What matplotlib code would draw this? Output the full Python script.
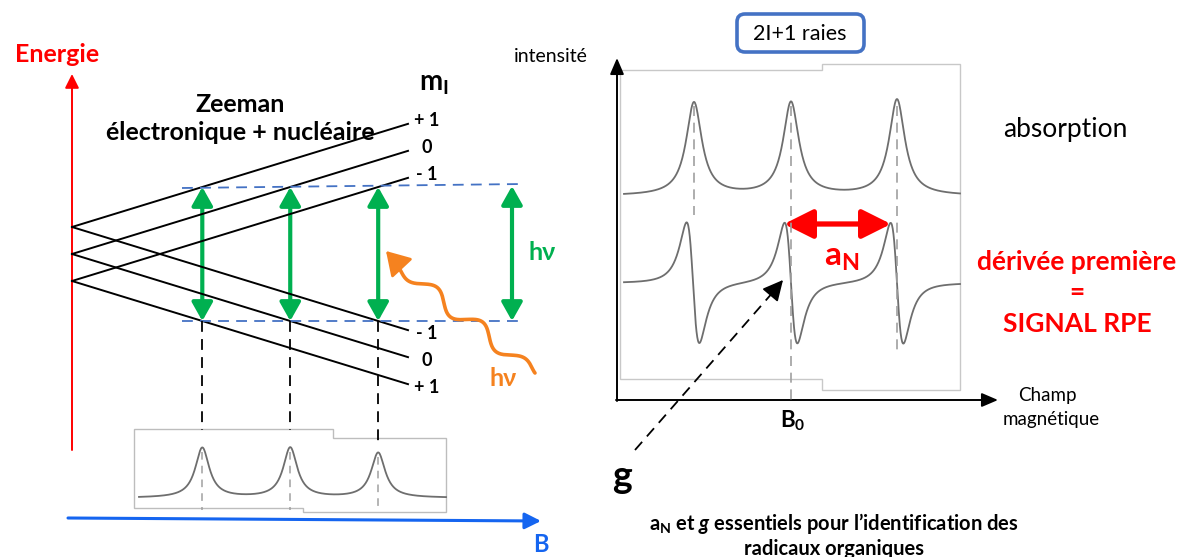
import numpy as np
import matplotlib.pyplot as plt
from matplotlib.patches import FancyArrowPatch, FancyBboxPatch, Polygon

plt.rcParams['font.family'] = ['Lato', 'DejaVu Sans']
plt.rcParams['mathtext.fontset'] = 'custom'
plt.rcParams['mathtext.rm'] = 'Lato'
plt.rcParams['mathtext.it'] = 'Lato:italic'
plt.rcParams['mathtext.bf'] = 'Lato:bold'
plt.rcParams['mathtext.bfit'] = 'Lato:bold:italic'

# --- data ---
ml_values = [1, 0, -1]
ml_labels = ['+ 1', '0', '- 1']
B_start = 72          # field origin of the level diagram
B_stop = 408
E_mid = 254
hyperfine = 27
zeeman_slope = 0.307
h_nu = 134

small_peak_heights = [50, 50, 45]
abs_centers = [694, 791, 897]
abs_heights = [93, 93, 96]
deriv_centers = [693, 791, 897]
deriv_amp = 93

GREEN = '#00B050'
RED = '#FF0000'
ORANGE = '#F5821F'
BLUE = '#1565F0'
GRAY = '#6E6E6E'


def upper(ml, b):
    return E_mid - hyperfine * ml - zeeman_slope * (b - B_start)


def lower(ml, b):
    return E_mid + hyperfine * ml + zeeman_slope * (b - B_start)


def arrow(ax, p0, p1, style, color, lw, ms, ls='-'):
    a = FancyArrowPatch(p0, p1, arrowstyle=style, color=color, lw=lw,
                        mutation_scale=ms, shrinkA=0, shrinkB=0, linestyle=ls)
    ax.add_patch(a)


fig = plt.figure(figsize=(11.83, 5.57), dpi=100)
ax = fig.add_axes([0, 0, 1, 1])
ax.set_xlim(0, 1183)
ax.set_ylim(557, 0)
ax.axis('off')

# ---------------- left panel ----------------
arrow(ax, (72, 450), (72, 74), '-|>,head_length=0.6,head_width=0.3', RED, 1.4, 14)
ax.text(57, 55, 'Energie', color=RED, fontsize=18, fontweight='bold', ha='center', va='center')

ax.text(240, 104, 'Zeeman', fontsize=18, fontweight='bold', ha='center', va='center')
ax.text(240, 133, 'électronique + nucléaire', fontsize=18, fontweight='bold', ha='center', va='center')
ax.text(434, 84, r'$\mathbf{m_I}$', fontsize=20, ha='center', va='center')

bb = np.array([B_start, B_stop])
for ml, lab in zip(ml_values, ml_labels):
    ax.plot(bb, upper(ml, bb), color='black', lw=1.4)
    ax.plot(bb, lower(ml, bb), color='black', lw=1.4)
    ax.text(427, upper(ml, B_stop) - 3, lab, fontsize=13, fontweight='bold', ha='center', va='center')
    ax.text(427, lower(ml, B_stop) + 3, lab, fontsize=13, fontweight='bold', ha='center', va='center')

# transitions (ΔmI = 0)
trans_B = [B_start + (h_nu - 2 * hyperfine * ml) / (2 * zeeman_slope) for ml in ml_values]
y_top = upper(ml_values[0], trans_B[0])
y_bot = lower(ml_values[0], trans_B[0])
ax.plot([182, 523], [y_top + 1, y_top - 3], color='#4472C4', lw=1.3, ls=(0, (6, 4)))
ax.plot([182, 523], [y_bot, y_bot], color='#4472C4', lw=1.3, ls=(0, (6, 4)))
for b in trans_B + [512]:
    arrow(ax, (b, y_bot), (b, y_top - (1 if b == 512 else 0)),
          '<|-|>,head_length=0.8,head_width=0.45', GREEN, 3.0, 14)
ax.text(542, 252, 'hν', color=GREEN, fontsize=18, fontweight='bold', ha='center', va='center')

# wavy photon
p0 = np.array([535.0, 373.0])
p1 = np.array([398.0, 266.0])
t = np.linspace(0, 1, 300)
d = p1 - p0
n = np.array([-d[1], d[0]]) / np.hypot(*d)
amp = 8 * np.sin(np.pi * t) ** 0.3
wave = p0[None, :] + t[:, None] * d[None, :] + (amp * np.sin(2 * np.pi * 3.0 * t))[:, None] * n[None, :]
ax.plot(wave[:, 0], wave[:, 1], color=ORANGE, lw=2.6, solid_capstyle='round')
arrow(ax, (400, 266), (386, 251), '-|>,head_length=0.9,head_width=0.55', ORANGE, 2.0, 16)
ax.text(503, 378, 'hν', color=ORANGE, fontsize=18, fontweight='bold', ha='center', va='center')

# projection lines to small spectrum
for b, yend in zip(trans_B, [430, 430, 446]):
    ax.plot([b, b], [y_bot, yend], color='black', lw=1.3, ls=(0, (6, 4)))

# small absorption spectrum
ax.add_patch(Polygon([(134, 429), (333, 429), (333, 438), (446, 438), (446, 512),
                      (303, 512), (303, 508), (134, 508)], closed=True,
                     fill=False, ec='#BDBDBD', lw=1.0))
xs = np.linspace(139, 446, 600)
ys = np.full_like(xs, 498.0)
for c, h in zip(trans_B, small_peak_heights):
    ys -= h / (1 + ((xs - c) / 8.5) ** 2)
ax.plot(xs, ys, color=GRAY, lw=1.3)
for c, h in zip(trans_B, small_peak_heights):
    ax.plot([c, c], [498 - h + 4, 510], color='#A0A0A0', lw=1.1, ls=(0, (5, 4)))

arrow(ax, (68, 518), (541, 521), '-|>,head_length=0.7,head_width=0.35', BLUE, 2.2, 14)
ax.text(541, 545, 'B', color=BLUE, fontsize=17, fontweight='bold', ha='center', va='center')

# ---------------- right panel ----------------
ax.add_patch(FancyBboxPatch((737, 14), 127, 38, boxstyle='round,pad=0,rounding_size=8',
                            fc='white', ec='#4472C4', lw=2.6))
ax.text(800, 34, '2I+1 raies', fontsize=15.5, ha='center', va='center')

ax.add_patch(Polygon([(620, 70), (822, 70), (822, 64), (960, 64), (960, 390),
                      (822, 390), (822, 379), (620, 379)], closed=True,
                     fill=False, ec='#C8C8C8', lw=1.0))

arrow(ax, (617, 401), (617, 58), '-|>,head_length=0.7,head_width=0.3', 'black', 1.4, 14)
arrow(ax, (616, 400), (998, 400), '-|>,head_length=0.7,head_width=0.3', 'black', 1.4, 14)
ax.text(551, 56, 'intensité', fontsize=14, ha='center', va='center')
ax.text(1047, 395, 'Champ', fontsize=13.5, ha='center', va='center')
ax.text(1051, 420, 'magnétique', fontsize=13.5, ha='center', va='center')

xr = np.linspace(624, 960, 900)
ya = np.full_like(xr, 196.0)
for c, h in zip(abs_centers, abs_heights):
    ya -= h / (1 + ((xr - c) / 9.5) ** 2)
ax.plot(xr, ya, color=GRAY, lw=1.3)

yd = np.full_like(xr, 283.0)
for c in deriv_centers:
    u = (xr - c) / 11.0
    yd -= deriv_amp * (-2 * u / (1 + u ** 2) ** 2)
ax.plot(xr, yd, color=GRAY, lw=1.3)

for c, yend in zip(abs_centers, [215, 405, 350]):
    ax.plot([c, c], [106, yend], color='#A0A0A0', lw=1.2, ls=(0, (6, 4)))

arrow(ax, (784, 224), (891, 224), '<|-|>,head_length=1.1,head_width=0.55', RED, 3.8, 16)
ax.text(842, 258, r'$\mathbf{a_N}$', color=RED, fontsize=24, ha='center', va='center')

ax.text(1065, 130, 'absorption', fontsize=19, ha='center', va='center')
ax.text(1077, 262, 'dérivée première', color=RED, fontsize=19, fontweight='bold', ha='center', va='center')
ax.text(1077, 292, '=', color=RED, fontsize=19, fontweight='bold', ha='center', va='center')
ax.text(1077, 324, 'SIGNAL RPE', color=RED, fontsize=19, fontweight='bold', ha='center', va='center')

ax.text(793, 421, r'$\mathbf{B_0}$', fontsize=16, ha='center', va='center')

ax.plot([635, 774], [450, 291], color='black', lw=1.3, ls=(0, (6, 4)))
arrow(ax, (772, 293), (783, 280), '-|>,head_length=0.9,head_width=0.45', 'black', 1.2, 14)
ax.text(622, 477, 'g', fontsize=27, fontweight='bold', ha='center', va='center')

ax.text(834, 523, r'$\mathbf{a_N}$ et $\mathbfit{g}$ essentiels pour l’identification des',
        fontsize=14.5, fontweight='bold', ha='center', va='center')
ax.text(834, 549, 'radicaux organiques', fontsize=14.5, fontweight='bold', ha='center', va='center')

fig.savefig('out.png', dpi=100)
